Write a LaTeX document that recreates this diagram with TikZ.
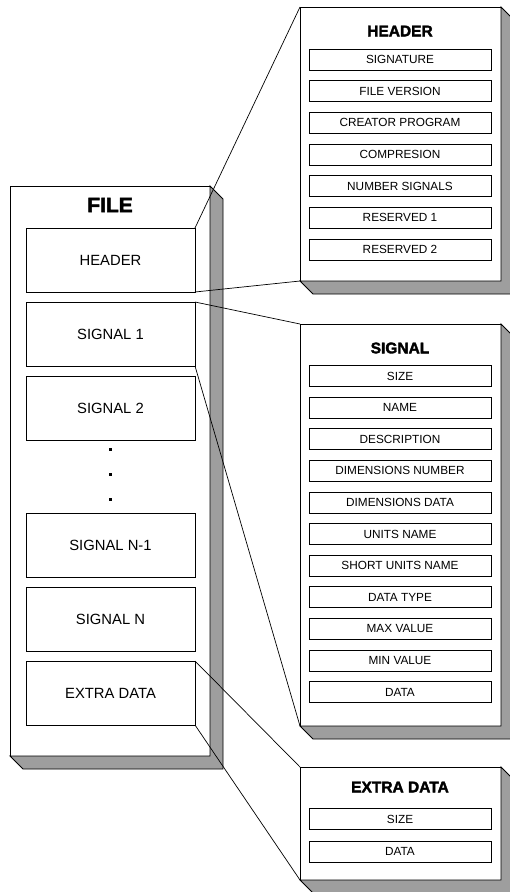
\documentclass[tikz,border=0pt]{standalone}
\usepackage{fontspec}
\setmainfont{Liberation Sans}
\newfontfamily\heavyfont{Liberation Sans Bold}[FakeBold=2.2]
\usetikzlibrary{calc}
\definecolor{shadegray}{gray}{0.62}
\tikzset{
  front/.style={draw=black, fill=white, line width=0.9pt, rectangle, inner sep=0pt, outer sep=0pt},
  filebox/.style={draw=black, fill=white, line width=0.9pt, minimum width=169pt, minimum height=64pt, inner sep=0pt, outer sep=0pt, font=\fontsize{14.8}{16}\selectfont},
  item/.style={draw=black, fill=white, line width=0.8pt, minimum width=182pt, minimum height=21pt, inner sep=0pt, outer sep=0pt, font=\fontsize{11.8}{13}\selectfont},
  ttl/.style={inner sep=0pt, font=\heavyfont\fontsize{15.5}{17}\selectfont},
  bigttl/.style={inner sep=0pt, font=\heavyfont\fontsize{21}{23}\selectfont},
  shadeside/.style={fill=shadegray, draw=black, line width=0.9pt, line join=miter},
  link/.style={draw=black, line width=0.7pt},
  dotmark/.style={fill=black, minimum size=3pt, inner sep=0pt, outer sep=0pt},
}
\newcommand\slabshadow[1]{%
  \filldraw[shadeside] (#1.north east) -- ($(#1.north east)+(13,13)$) -- ($(#1.south east)+(13,13)$) -- ($(#1.south west)+(13,13)$) -- (#1.south west) -- (#1.south east) -- cycle;}
\begin{document}
\begin{tikzpicture}[x=1pt,y=-1pt]
\clip (0,0) rectangle (510,892);
\fill[white] (0,0) rectangle (510,892);

% FILE slab
\node[front, minimum width=200pt, minimum height=570pt] (file) at (110,471) {};
\slabshadow{file}
\node[bigttl] (filet) at (110,205) {FILE};
\node[filebox] (fhdr) at (110.5,260) {HEADER};
\node[filebox] (fs1) at (110.5,334) {SIGNAL 1};
\node[filebox] (fs2) at (110.5,408) {SIGNAL 2};
\node[dotmark] (d1) at (110,449) {};
\node[dotmark] (d2) at (110,474) {};
\node[dotmark] (d3) at (110,499) {};
\node[filebox] (fsn1) at (110.5,545) {SIGNAL N-1};
\node[filebox] (fsn) at (110.5,619) {SIGNAL N};
\node[filebox] (fex) at (110.5,693) {EXTRA DATA};

% HEADER panel
\node[front, minimum width=201pt, minimum height=274pt] (hp) at (400.5,144) {};
\slabshadow{hp}
\node[ttl] (hpt) at (400,31) {HEADER};
\node[item] (h1) at (400,59.5) {SIGNATURE};
\node[item] (h2) at (400,91.2) {FILE VERSION};
\node[item] (h3) at (400,122.8) {CREATOR PROGRAM};
\node[item] (h4) at (400,154.5) {COMPRESION};
\node[item] (h5) at (400,186.2) {NUMBER SIGNALS};
\node[item] (h6) at (400,217.8) {RESERVED 1};
\node[item] (h7) at (400,249.5) {RESERVED 2};

% SIGNAL panel
\node[front, minimum width=201pt, minimum height=402pt] (sp) at (400.5,525) {};
\slabshadow{sp}
\node[ttl] (spt) at (400,348) {SIGNAL};
\node[item] (s1) at (400,376.0) {SIZE};
\node[item] (s2) at (400,407.6) {NAME};
\node[item] (s3) at (400,439.2) {DESCRIPTION};
\node[item] (s4) at (400,470.8) {DIMENSIONS NUMBER};
\node[item] (s5) at (400,502.4) {DIMENSIONS DATA};
\node[item] (s6) at (400,534.0) {UNITS NAME};
\node[item] (s7) at (400,565.6) {SHORT UNITS NAME};
\node[item] (s8) at (400,597.2) {DATA TYPE};
\node[item] (s9) at (400,628.8) {MAX VALUE};
\node[item] (s10) at (400,660.4) {MIN VALUE};
\node[item] (s11) at (400,692.0) {DATA};

% EXTRA DATA panel
\node[front, minimum width=201pt, minimum height=113pt] (ep) at (400.5,823.5) {};
\slabshadow{ep}
\node[ttl] (ept) at (400,787) {EXTRA DATA};
\node[item] (e1) at (400,819) {SIZE};
\node[item] (e2) at (400,851.5) {DATA};

% connectors
\draw[link] (fhdr.north east) -- (hp.north west);
\draw[link] (fhdr.south east) -- (hp.south west);
\draw[link] (fs1.north east) -- (sp.north west);
\draw[link] (fs1.south east) -- (sp.south west);
\draw[link] (fex.north east) -- (ep.north west);
\draw[link] (fex.south east) -- (ep.south west);
\end{tikzpicture}
\end{document}
